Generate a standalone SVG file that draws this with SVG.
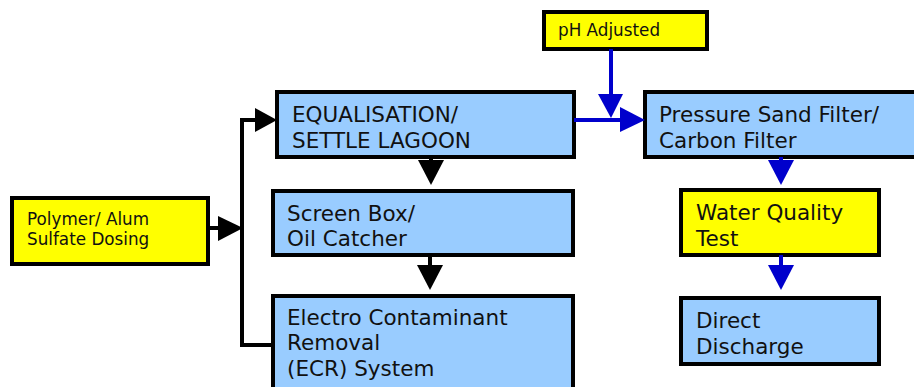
<svg xmlns="http://www.w3.org/2000/svg" width="914" height="387" viewBox="0 0 914 387">
<style>
.box{stroke:#000;stroke-width:4}
.b{fill:#99CCFF}
.y{fill:#FFFF00}
text{font-family:"DejaVu Sans",Verdana,sans-serif;fill:#111}
.L{font-size:21.5px}
.S{font-size:16.8px}
.k{stroke:#000;stroke-width:4;fill:none}
.u{stroke:#0000CC;stroke-width:4;fill:none}
</style>
<rect width="914" height="387" fill="#fff"/>
<g id="polymer"><rect class="box y" x="12" y="198" width="196" height="66"/><text class="S" x="27" y="225">Polymer/ Alum</text><text class="S" x="27" y="245">Sulfate Dosing</text></g>
<g id="equalisation"><rect class="box b" x="277" y="92" width="297" height="65"/><text class="L" x="292" y="122">EQUALISATION/</text><text class="L" x="292" y="148">SETTLE LAGOON</text></g>
<g id="screen"><rect class="box b" x="273" y="191" width="300" height="64"/><text class="L" x="287" y="221">Screen Box/</text><text class="L" x="287" y="246">Oil Catcher</text></g>
<g id="ecr"><rect class="box b" x="273" y="296" width="300" height="100"/><text class="L" x="287" y="325">Electro Contaminant</text><text class="L" x="287" y="350">Removal</text><text class="L" x="287" y="376">(ECR) System</text></g>
<g id="ph"><rect class="box y" x="544" y="12" width="163" height="37"/><text class="S" x="558" y="36">pH Adjusted</text></g>
<g id="pressure"><rect class="box b" x="645" y="92" width="280" height="65"/><text class="L" x="659" y="122">Pressure Sand Filter/</text><text class="L" x="659" y="148">Carbon Filter</text></g>
<g id="water"><rect class="box y" x="681" y="190" width="198" height="65"/><text class="L" x="696" y="220">Water Quality</text><text class="L" x="696" y="246">Test</text></g>
<g id="discharge"><rect class="box b" x="681" y="298" width="198" height="66"/><text class="L" x="696" y="328">Direct</text><text class="L" x="696" y="354">Discharge</text></g>
<g id="connectors">
<path class="k" d="M208 228H222M271 345H242V120H258"/>
<polygon points="218,216 243,228 218,241" fill="#000"/>
<polygon points="255,108 277,120 255,132" fill="#000"/>
<path class="k" d="M431 157V162M430 255V267"/>
<polygon points="418,160 444,160 431,185" fill="#000"/>
<polygon points="417,265 443,265 430,290" fill="#000"/>
<path class="u" d="M574 120H624M611 49V98"/>
<polygon points="620,107 645,120 620,132" fill="#0000CC"/>
<polygon points="598,94 623,94 611,118" fill="#0000CC"/>
<path class="u" d="M781 157V162M781 255V267"/>
<polygon points="768,160 794,160 781,185" fill="#0000CC"/>
<polygon points="768,265 794,265 781,290" fill="#0000CC"/>
</g>
</svg>
